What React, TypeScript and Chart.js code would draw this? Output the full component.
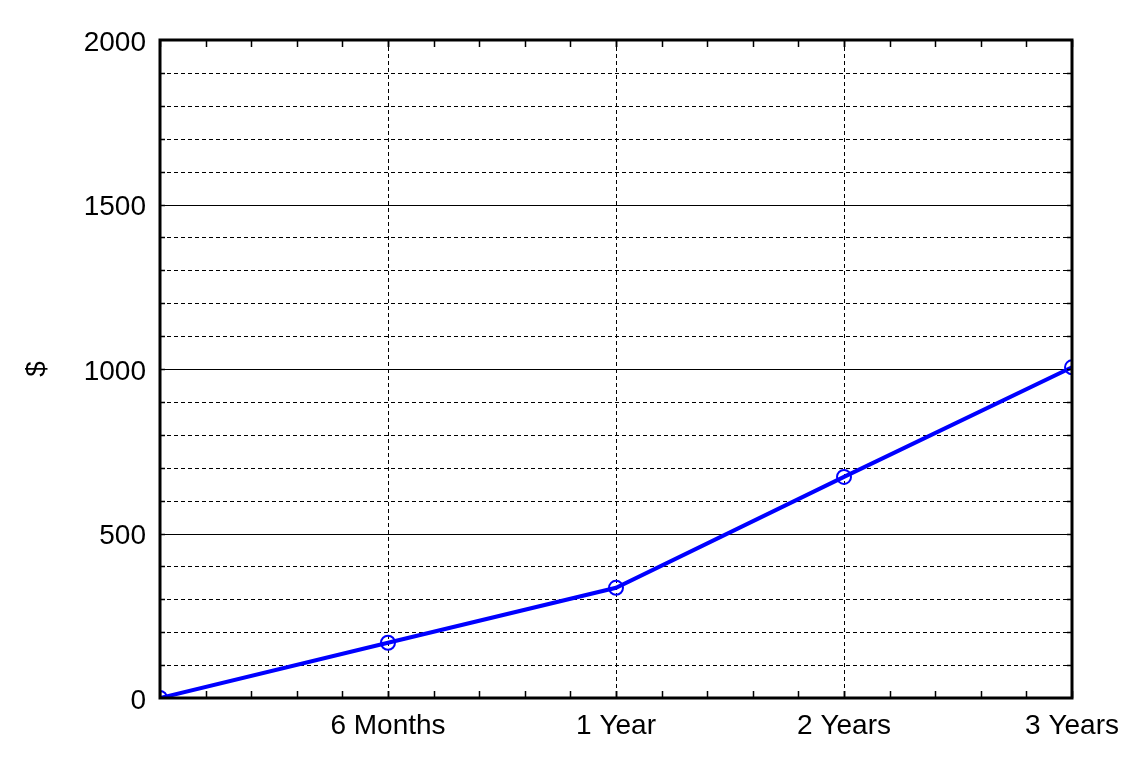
import React, { useEffect, useRef } from 'react';
import { Chart, registerables } from 'chart.js';

Chart.register(...registerables);

const categories = ['', '6 Months', '1 Year', '2 Years', '3 Years'];
const values = [0, 168, 335, 672, 1005];
const yMin = 0;
const yMax = 2000;
const yStep = 100;
const yLabelStep = 500;
const yTitle = '$';
const minorPerCategory = 5;

const FONT = '"Liberation Sans", Arial, sans-serif';

const framePlugin = {
  id: 'framePlugin',
  beforeDatasetsDraw(chart: any) {
    const { ctx, chartArea: a, scales } = chart;
    const x = scales.x;
    const y = scales.y;
    ctx.save();
    ctx.strokeStyle = '#000';
    ctx.lineWidth = 1;
    for (let v = yMin + yStep; v < yMax; v += yStep) {
      const py = Math.round(y.getPixelForValue(v)) + 0.5;
      ctx.setLineDash(v % yLabelStep === 0 ? [] : [4, 3]);
      ctx.beginPath();
      ctx.moveTo(a.left, py);
      ctx.lineTo(a.right, py);
      ctx.stroke();
    }
    ctx.setLineDash([4, 3]);
    for (let i = 1; i < categories.length - 1; i++) {
      const px = Math.round(x.getPixelForValue(i)) + 0.5;
      ctx.beginPath();
      ctx.moveTo(px, a.top);
      ctx.lineTo(px, a.bottom);
      ctx.stroke();
    }
    ctx.restore();
  },
  afterDatasetsDraw(chart: any) {
    const { ctx, chartArea: a, scales } = chart;
    const x = scales.x;
    const y = scales.y;
    ctx.save();
    ctx.strokeStyle = '#000';
    ctx.setLineDash([]);
    ctx.lineWidth = 1.5;
    for (let v = yMin + yStep; v < yMax; v += yStep) {
      const py = Math.round(y.getPixelForValue(v)) + 0.5;
      ctx.beginPath();
      ctx.moveTo(a.left, py);
      ctx.lineTo(a.left + 5, py);
      ctx.moveTo(a.right, py);
      ctx.lineTo(a.right - 5, py);
      ctx.stroke();
    }
    for (let i = 0; i < categories.length - 1; i++) {
      for (let k = 0; k <= minorPerCategory; k++) {
        const px = Math.round(x.getPixelForValue(i + k / minorPerCategory)) + 0.5;
        ctx.beginPath();
        ctx.moveTo(px, a.bottom);
        ctx.lineTo(px, a.bottom - 7);
        ctx.moveTo(px, a.top);
        ctx.lineTo(px, a.top + 7);
        ctx.stroke();
      }
    }
    ctx.lineWidth = 3;
    ctx.strokeRect(a.left, a.top, a.right - a.left, a.bottom - a.top);
    ctx.restore();
  },
};

export default function App() {
  const ref = useRef<HTMLCanvasElement | null>(null);
  useEffect(() => {
    if (!ref.current) return;
    const chart = new Chart(ref.current, {
      type: 'line',
      data: {
        labels: categories,
        datasets: [
          {
            data: values,
            borderColor: '#0000ff',
            borderWidth: 4,
            pointRadius: 7,
            pointBorderWidth: 2,
            pointBorderColor: '#0000ff',
            pointBackgroundColor: 'rgba(0,0,0,0)',
            tension: 0,
            clip: 0,
          } as any,
        ],
      },
      options: {
        responsive: false,
        animation: false,
        events: [],
        layout: { padding: { left: 0, top: 40, right: 65, bottom: 17 } },
        plugins: { legend: { display: false }, tooltip: { enabled: false } },
        scales: {
          x: {
            type: 'category',
            offset: false,
            grid: { display: false, drawTicks: false },
            border: { display: false },
            ticks: {
              color: '#000',
              font: { family: FONT, size: 28 },
              padding: 11,
              maxRotation: 0,
              autoSkip: false,
            },
            afterFit: (s: any) => {
              s.height = 50;
            },
          },
          y: {
            min: yMin,
            max: yMax,
            grid: { display: false, drawTicks: false },
            border: { display: false },
            ticks: {
              stepSize: yStep,
              autoSkip: false,
              color: '#000',
              font: { family: FONT, size: 28 },
              padding: 14,
              labelOffset: 3,
              callback: (v: any) => (Number(v) % yLabelStep === 0 ? String(v) : ''),
            },
            title: {
              display: true,
              text: yTitle,
              color: '#000',
              font: { family: FONT, size: 28 },
              padding: { top: 20, bottom: 0 },
            },
            afterFit: (s: any) => {
              s.width = 160;
            },
          },
        },
      },
      plugins: [framePlugin],
    });
    return () => chart.destroy();
  }, []);
  return (
    <div style={{ position: 'fixed', left: 0, top: 0, width: 1137, height: 765, background: '#fff' }}>
      <canvas ref={ref} width={1137} height={765} style={{ display: 'block' }} />
    </div>
  );
}
